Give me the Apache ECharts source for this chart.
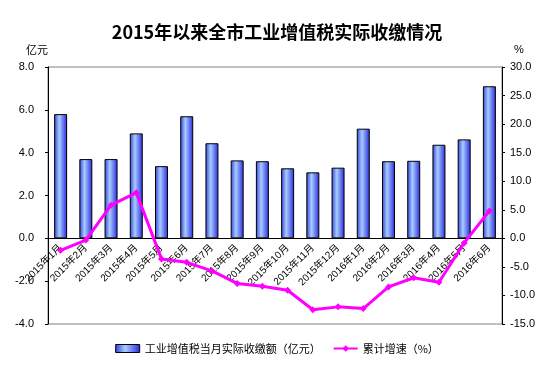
<!DOCTYPE html>
<html><head><meta charset="utf-8">
<script src="https://cdn.jsdelivr.net/npm/echarts@6/dist/echarts.min.js"></script>
<style>html,body{margin:0;padding:0;background:#fff}#c{width:554px;height:371px}</style>
</head><body><div id="c"></div>
<script>
const categories = ['2015年1月','2015年2月','2015年3月','2015年4月','2015年5月','2015年6月','2015年7月','2015年8月','2015年9月','2015年10月','2015年11月','2015年12月','2016年1月','2016年2月','2016年3月','2016年4月','2016年5月','2016年6月'];
const monthlyRevenue = [5.8, 3.7, 3.7, 4.9, 3.37, 5.7, 4.44, 3.64, 3.6, 3.27, 3.08, 3.3, 5.12, 3.6, 3.62, 4.37, 4.62, 7.1];
const cumulativeGrowth = [-2.1, -0.3, 5.8, 8.0, -3.6, -4.2, -5.7, -7.9, -8.4, -9.1, -12.5, -12.0, -12.3, -8.5, -6.9, -7.7, -0.8, 4.8];
const leftTicks = {min: -4, max: 8, interval: 2};
const rightTicks = {min: -15, max: 30, interval: 5};
const seriesNames = ['工业增值税当月实际收缴额（亿元）', '累计增速（%）'];

const W = 554, H = 371;
const grid = {left: 48, right: 52, top: 67, bottom: 47};
const plotH = H - grid.top - grid.bottom;
// distance of the zero line above the plot bottom, derived from the left axis range
const zeroOffset = plotH * (0 - leftTicks.min) / (leftTicks.max - leftTicks.min);

const chart = echarts.init(document.getElementById('c'), null, {renderer: 'canvas'});
const font = 'Arial, "Liberation Sans", "Noto Sans CJK SC", sans-serif';
const cjk = '"Noto Sans CJK SC", sans-serif';
const barGrad = () => new echarts.graphic.LinearGradient(0,0,1,0,[{offset:0,color:'#3040D8'},{offset:0.4,color:'#A8CCFF'},{offset:1,color:'#2828E0'}]);
chart.setOption({
  animation: false,
  backgroundColor: '#fff',
  title: {
    text: '2015年以来全市工业增值税实际收缴情况',
    left: 'center', top: 18,
    textStyle: {fontSize: 18, fontWeight: 'bold', color: '#000', fontFamily: cjk}
  },
  grid: grid,
  legend: {
    bottom: 12, left: 'center', itemGap: 12,
    textStyle: {fontSize: 11, color: '#000', fontFamily: cjk},
    data: [
      {name: seriesNames[0], icon: 'rect', itemStyle: {color: barGrad(), borderColor:'#000', borderWidth:1}},
      {name: seriesNames[1]}
    ],
    itemWidth: 24, itemHeight: 8
  },
  xAxis: {
    type: 'category', data: categories, position: 'bottom', offset: -zeroOffset,
    axisLine: {onZero: false, lineStyle: {color: '#000', width: 1}},
    axisTick: {inside: true, length: 4, lineStyle: {color: '#000'}},
    axisLabel: {rotate: 45, interval: 0, fontSize: 10, color: '#000', margin: 8, fontFamily: font},
    splitLine: {show: false}
  },
  yAxis: [
    {
      type: 'value', min: leftTicks.min, max: leftTicks.max, interval: leftTicks.interval,
      name: '亿元', nameLocation: 'end', nameGap: 12,
      nameTextStyle: {fontSize: 11, color: '#000', align: 'right', fontFamily: cjk},
      axisLine: {show: true, lineStyle: {color: '#000'}},
      axisTick: {show: true, length: 3, lineStyle: {color: '#000'}},
      axisLabel: {fontSize: 11, color: '#000', margin: 14, formatter: v => v.toFixed(1), fontFamily: font},
      splitLine: {show: false}
    },
    {
      type: 'value', min: rightTicks.min, max: rightTicks.max, interval: rightTicks.interval,
      name: '%', nameLocation: 'end', nameGap: 12,
      nameTextStyle: {fontSize: 11, color: '#000', align: 'left', padding: [0, 0, 0, 12], fontFamily: font},
      axisLine: {show: true, lineStyle: {color: '#000'}},
      axisTick: {show: true, length: 3, lineStyle: {color: '#000'}},
      axisLabel: {fontSize: 11, color: '#000', margin: 8, formatter: v => v.toFixed(1), fontFamily: font},
      splitLine: {show: false}
    }
  ],
  graphic: [
    {type: 'rect', shape: {x: grid.left, y: grid.top, width: W - grid.left - grid.right, height: plotH},
     style: {fill: 'none', stroke: '#808080', lineWidth: 1}, z: -1, silent: true}
  ],
  series: [
    {
      name: seriesNames[0], type: 'bar', yAxisIndex: 0, data: monthlyRevenue, barWidth: 13,
      itemStyle: {color: barGrad(), borderColor: '#000', borderWidth: 1}
    },
    {
      name: seriesNames[1], type: 'line', yAxisIndex: 1, data: cumulativeGrowth,
      symbol: 'diamond', symbolSize: 7, z: 5,
      lineStyle: {color: '#FF00FF', width: 3},
      itemStyle: {color: '#FF00FF'}
    }
  ]
});
</script></body></html>
